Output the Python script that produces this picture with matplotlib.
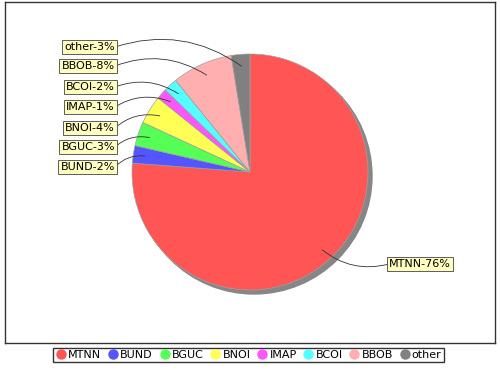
import numpy as np
import matplotlib.pyplot as plt
from matplotlib.lines import Line2D
from matplotlib.patches import Circle

# Data
names = ['MTNN', 'BUND', 'BGUC', 'BNOI', 'IMAP', 'BCOI', 'BBOB', 'other']
shares = [76.2, 2.4, 3.3, 3.9, 1.45, 1.9, 8.3, 2.55]
pct_labels = [76, 2, 3, 4, 1, 2, 8, 3]
colors = ['#FF5555', '#5555FF', '#55FF55', '#FFFF55', '#FF55FF', '#55FFFF', '#FFAFAF', '#808080']

plt.rcParams['font.family'] = 'DejaVu Sans'

W, H = 500, 370
fig = plt.figure(figsize=(W / 100, H / 100), dpi=100)
# plot area in pixel coordinates (y measured from top in the picture)
left, top, right, bottom = 5, 2, 495, 343
ax = fig.add_axes([left / W, (H - bottom) / H, (right - left) / W, (bottom - top) / H])
ax.set_xlim(left, right)
ax.set_ylim(H - bottom, H - top)

cx, cy, r = 250, H - 172, 118

# shadow
ax.add_patch(Circle((cx + 4, cy - 4), r, color='#868686', zorder=1))
wedges, _ = ax.pie(shares, colors=colors, startangle=90, counterclock=False,
                   center=(cx, cy), radius=r, frame=True,
                   wedgeprops=dict(edgecolor='#a0a0a0', linewidth=0.5, zorder=2))

# label positions (text anchor, picture pixels)
label_pos = {
    'MTNN': (389, 264, 'left'),
    'BUND': (115, 167, 'right'),
    'BGUC': (115, 147, 'right'),
    'BNOI': (115, 128, 'right'),
    'IMAP': (115, 107, 'right'),
    'BCOI': (115, 87, 'right'),
    'BBOB': (115, 66, 'right'),
    'other': (115, 47, 'right'),
}

total = sum(shares)
start = 90.0
for name, val, pct in zip(names, shares, pct_labels):
    sweep = 360.0 * val / total
    mid = start - sweep / 2
    start -= sweep
    px = cx + 0.9 * r * np.cos(np.radians(mid))
    py = cy + 0.9 * r * np.sin(np.radians(mid))
    tx, ty, ha = label_pos[name]
    rel = (1.0, 0.5) if ha == 'right' else (0.0, 0.5)
    ax.annotate(f'{name}-{pct}%', xy=(px, py), xytext=(tx, H - ty),
                ha=ha, va='center', fontsize=8, zorder=5,
                bbox=dict(boxstyle='square,pad=0.22', fc='#FFFFC0', ec='#444444', lw=0.6),
                arrowprops=dict(arrowstyle='-', color='#333333', lw=0.6,
                                connectionstyle='arc3,rad=-0.25', relpos=rel,
                                patchA=None, shrinkA=0, shrinkB=0))

ax.set_xticks([])
ax.set_yticks([])
for s in ax.spines.values():
    s.set_color('#333333')
    s.set_linewidth(1.0)

handles = [Line2D([], [], marker='o', linestyle='', markersize=6.5,
                  markerfacecolor=c, markeredgecolor=c) for c in colors]
leg = fig.legend(handles, names, loc='center', bbox_to_anchor=(248.5 / W, 15 / H),
                 ncol=len(names), fontsize=8, frameon=True, fancybox=False,
                 edgecolor='black', handletextpad=0.15, columnspacing=0.55,
                 borderpad=0.2, handlelength=1.0, borderaxespad=0)
leg.get_frame().set_linewidth(1.0)

fig.savefig('out.png', dpi=100)
